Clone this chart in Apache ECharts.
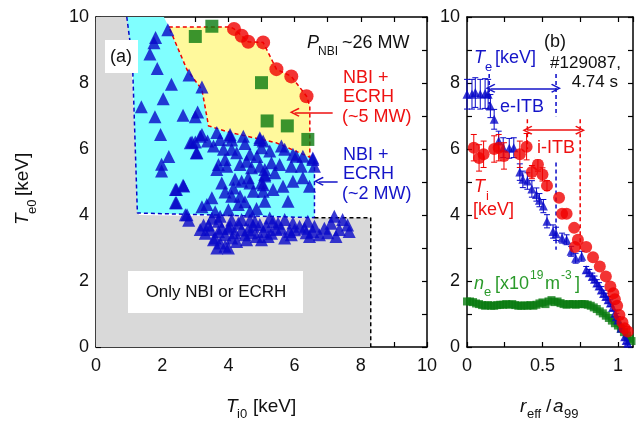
<!DOCTYPE html>
<html><head><meta charset="utf-8">
<script src="https://cdn.jsdelivr.net/npm/echarts@6/dist/echarts.min.js"></script>
<style>html,body{margin:0;padding:0;background:#fff}#c{width:642px;height:424px}</style>
</head><body><div id="c"></div>
<script>
// ---------- Panel (a) data ----------
const greyRegion = [[0,0],[0,10],[1.0,10],[1.3,4.0],[6.6,3.92],[8.3,3.92],[8.3,0]];
const cyanRegion = [[0.93,10],[2.05,10],[2.2,9.7],[2.75,8.4],[3.2,7.8],[3.4,6.7],[4.05,6.5],[5.44,6.19],[6.46,5.75],[6.6,5.75],[6.6,3.92],[1.25,4.06],[1.1,8.7]];
const cyanEdge = [[0.93,10],[1.1,8.7],[1.25,4.06],[6.6,3.92],[6.6,5.75]];
const blackEdge = [[6.6,3.92],[8.3,3.92],[8.3,0]];
const yellowRegion = [[2.2,9.7],[4.05,9.7],[4.17,9.64],[4.4,9.43],[4.6,9.25],[5.05,9.23],[5.45,8.42],[5.9,8.2],[6.36,7.6],[6.46,7.3],[6.46,5.75],[5.44,6.19],[4.05,6.5],[3.4,6.7],[3.2,7.8],[2.75,8.4]];
const ecrh5Ti = [4.17,4.4,4.6,5.05,5.45,5.9,6.36];
const ecrh5Te = [9.64,9.43,9.25,9.23,8.42,8.2,7.6];
const sqTi = [3.0,3.5,5.0,5.17,5.78,6.4];
const sqTe = [9.41,9.72,8.01,6.85,6.7,6.29];
const triPts = [
[2.17,9.61],[1.8,9.38],[1.75,9.22],[1.63,8.88],[1.85,8.44],[2.28,7.96],[1.37,7.28],[2.03,7.52],[1.78,6.98],[2.63,7.02],[3.07,7.12],[3.0,6.98],[2.81,8.24],[3.2,7.88],[1.95,6.44],[2.2,5.77],[1.98,5.54],[1.98,5.33],[2.43,4.77],[2.63,4.9],[2.43,4.37],[2.75,4.01],[2.8,3.84],
[3.2,6.44],[2.9,6.21],[3.0,6.21],[3.03,5.89],[3.37,6.24],[3.65,6.5],[3.75,6.29],[4.05,6.44],[4.1,6.27],[4.45,6.39],[4.5,6.17],[4.95,6.34],[5.0,6.04],[3.55,6.09],[3.85,5.99],[4.1,5.99],[4.25,5.89],[4.65,5.84],[4.86,5.77],[3.9,5.68],[3.7,5.53],[3.65,5.38],[3.95,5.48],[4.35,5.53],[4.55,5.63],[4.7,5.43],[4.95,5.48],[5.1,5.38],[3.8,4.97],[4.2,5.08],[4.4,5.02],[4.6,5.13],[4.65,4.97],[5.0,4.97],[5.1,5.18],[4.15,4.82],[4.1,4.57],[4.35,4.57],[4.75,4.72],[5.05,4.72],[2.65,4.88],[2.4,4.77],[2.4,4.37],[3.5,4.52],[3.35,4.32],[3.2,4.25],[4.0,4.16],[4.3,4.32],[4.65,4.11],[3.75,3.96],[2.7,4.01],
[2.85,6.19],[3.15,6.39],[4.05,6.39],[4.95,6.29],[5.6,6.09],[6.05,5.78],[6.55,5.73],[3.05,5.89],
[5.05,6.24],[5.25,5.94],[5.7,5.99],[5.95,5.84],[6.25,5.78],[6.55,5.68],[6.6,5.48],[5.3,5.58],[5.55,5.53],[5.9,5.48],[6.2,5.48],[5.1,5.23],[5.4,5.28],[5.95,5.02],[6.25,5.13],[6.45,4.87],[5.05,4.92],[5.35,4.77],[5.65,4.87],[5.1,4.42],[5.8,4.42],[3.9,4.7],[4.5,4.4],[3.6,4.1],[4.85,4.2],
[3.7,3.81],[4.05,3.66],[4.4,3.86],[4.75,3.66],[4.95,3.71],[3.45,3.56],[3.7,3.5],[3.9,3.4],[4.2,3.46],[4.5,3.4],[4.7,3.46],[5.05,3.5],[3.55,3.25],[3.75,3.15],[3.9,3.05],[4.25,3.2],[4.55,3.25],[4.85,3.35],[3.15,3.56],[3.3,3.45],[5.25,3.91],[5.7,3.86],[5.95,3.76],[6.4,3.81],[6.6,3.66],[7.2,3.96],[7.45,3.86],[7.6,3.7],[5.15,3.66],[5.45,3.56],[5.85,3.5],[6.15,3.66],[6.35,3.46],[6.75,3.4],[7.0,3.46],[7.35,3.56],[7.65,3.5],[5.2,3.35],[5.7,3.3],[6.45,3.35],[7.25,3.35],[4.0,3.6],[4.3,3.75],[4.6,3.55],[5.5,3.75],[6.0,3.55],[6.9,3.6],
[3.4,3.7],[3.6,3.3],[3.8,3.6],[4.1,3.3],[4.4,3.55],[4.8,3.8],[5.3,3.45],[5.6,3.6],[6.3,3.6],[6.55,3.5],[4.1,3.85],[3.5,3.9],[5.0,3.25],[5.9,3.4],[7.1,3.75],[3.25,3.7],[4.65,3.85],[5.35,3.8],[4.0,3.0],[3.65,3.0]
];

// ---------- Panel (b) data ----------
const teR = [0,0.033,0.055,0.088,0.12,0.14,0.155,0.18,0.21,0.24,0.28,0.31,0.35,0.37,0.40,0.43,0.46,0.48,0.506,0.53,0.57,0.59,0.63,0.66,0.69,0.72,0.76,0.79,0.81,0.83,0.845,0.86,0.875,0.89,0.905,0.92,0.935,0.95,0.965,0.98,0.99,1.0,1.02,1.045,1.055,1.065];
const teV = [7.66,7.66,7.71,7.66,7.68,7.66,7.3,6.9,6.24,6.04,6.02,6.04,5.3,5.08,5.03,4.79,4.62,4.45,4.27,3.81,3.5,3.43,3.3,3.25,2.9,2.69,2.75,2.34,2.25,2.14,2.05,1.94,1.85,1.73,1.62,1.53,1.43,1.33,1.2,1.02,0.92,0.82,0.57,0.31,0.2,0.11];
const teErr = [0.45,0.45,0.45,0.45,0.45,0.45,0.35,0.3,0.3,0.3,0.3,0.3,0.25,0.25,0.25,0.25,0.2,0.2,0.2,0.2,0.2,0.2,0.15,0.15,0.15,0.15,0.15,0.1,0.1,0.1,0.1,0.1,0.1,0.1,0.1,0.1,0.1,0.1,0.1,0.1,0.1,0.1,0.1,0.1,0.1,0.1];
const tiR = [0.045,0.08,0.11,0.18,0.21,0.245,0.35,0.395,0.43,0.47,0.50,0.53,0.61,0.63,0.66,0.71,0.715,0.735,0.79,0.835,0.88,0.92,0.95,0.97,0.98,0.995,1.01,1.03,1.045,1.065];
const tiV = [6.04,5.73,5.84,6.0,6.04,5.79,5.84,6.07,5.3,5.53,5.23,4.89,4.52,4.04,4.04,3.61,3.03,3.25,3.03,2.72,2.44,2.14,1.83,1.63,1.45,1.25,0.97,0.75,0.57,0.47];
const tiErr = [0.4,0.4,0.4,0.4,0.4,0.4,0.4,0.4,0.2,0.2,0.2,0.15,0,0,0,0,0,0,0,0,0,0,0,0,0,0,0,0,0,0];
const neR = [0,0.02,0.04,0.06,0.08,0.10,0.12,0.14,0.16,0.18,0.20,0.22,0.24,0.26,0.28,0.30,0.32,0.34,0.36,0.38,0.40,0.42,0.44,0.46,0.48,0.50,0.52,0.54,0.56,0.58,0.60,0.62,0.64,0.66,0.68,0.70,0.72,0.74,0.76,0.78,0.80,0.82,0.84,0.86,0.88,0.90,0.92,0.94,0.96,0.98,1.0,1.02,1.04,1.06,1.08,1.09];
const neV = [1.38,1.38,1.36,1.32,1.3,1.27,1.25,1.27,1.25,1.25,1.27,1.28,1.28,1.3,1.28,1.3,1.27,1.25,1.25,1.26,1.25,1.27,1.25,1.28,1.32,1.35,1.3,1.38,1.42,1.36,1.38,1.33,1.3,1.28,1.3,1.3,1.28,1.3,1.3,1.3,1.28,1.25,1.2,1.15,1.08,1.02,0.95,0.88,0.8,0.72,0.65,0.55,0.45,0.35,0.25,0.18];
const eItb = [0.155,0.59], eItbLevel = 7.84;
const iItb = [0.4,0.75], iItbLevel = 6.57;

// tick labels
const leftTicks = [0,2,4,6,8,10];
const rhoTicks = [0,0.5,1];

const FF = 'Liberation Sans, Arial, sans-serif';
const chart = echarts.init(document.getElementById('c'));

function polyRender(points, fill, stroke) {
  return function (params, api) {
    if (params.dataIndex !== 0) return;
    const pts = points.map(p => api.coord(p));
    return {type:'polygon', shape:{points:pts},
      style:{fill:fill, stroke:stroke||null, lineWidth:1.5, lineDash: stroke ? [4,3] : null}};
  };
}
function errRender(color) {
  return function (params, api) {
    const x = api.value(0), lo = api.value(1), hi = api.value(2);
    if (hi - lo <= 0) return;
    const a = api.coord([x, lo]), b = api.coord([x, hi]);
    const w = 3, st = {stroke:color, lineWidth:1};
    return {type:'group', children:[
      {type:'line', shape:{x1:a[0],y1:a[1],x2:b[0],y2:b[1]}, style:st},
      {type:'line', shape:{x1:a[0]-w,y1:a[1],x2:a[0]+w,y2:a[1]}, style:st},
      {type:'line', shape:{x1:b[0]-w,y1:b[1],x2:b[0]+w,y2:b[1]}, style:st}
    ]};
  };
}
function axisBase(extra) {
  return Object.assign({
    type:'value', splitLine:{show:false},
    axisLine:{show:true, onZero:false, lineStyle:{color:'#000', width:1.5}},
    axisTick:{show:true, inside:true, length:5, lineStyle:{color:'#000', width:1.2}},
  }, extra);
}
const lblStyle = {fontSize:18, color:'#111', fontFamily:FF};
const fmtLeft = v => leftTicks.indexOf(v) >= 0 ? String(v) : '';
const fmtRho = v => rhoTicks.some(t => Math.abs(t - v) < 1e-9) ? String(v) : '';

const xAxes = [
  axisBase({gridIndex:0, min:0, max:10, interval:1, position:'bottom', axisLabel:Object.assign({formatter:fmtLeft, margin:10}, lblStyle)}),
  axisBase({gridIndex:0, min:0, max:10, interval:1, position:'top', axisLabel:{show:false}}),
  axisBase({gridIndex:1, min:0, max:1.1, interval:0.25, position:'bottom', axisLabel:Object.assign({formatter:fmtRho, margin:10, showMaxLabel:false}, lblStyle)}),
  axisBase({gridIndex:1, min:0, max:1.1, interval:0.25, position:'top', axisLabel:{show:false}})
];
const yAxes = [
  axisBase({gridIndex:0, min:0, max:10, interval:1, position:'left', axisLabel:Object.assign({formatter:fmtLeft, margin:7}, lblStyle)}),
  axisBase({gridIndex:0, min:0, max:10, interval:1, position:'right', axisLabel:{show:false}}),
  axisBase({gridIndex:1, min:0, max:10, interval:1, position:'left', axisLabel:Object.assign({formatter:fmtLeft, margin:7}, lblStyle)}),
  axisBase({gridIndex:1, min:0, max:10, interval:1, position:'right', axisLabel:{show:false}})
];

const chevron = 'path://M5,0L10,8.5L8.8,9.5L5,3L1.2,9.5L0,8.5Z';
const RED = '#f00000', BLUE = '#0808c8', GREEN = '#0a7a10';
const TRED = '#ee1111', TBLUE = '#1414c8', TGREEN = '#2a9a2a';

const series = [
  {type:'custom', xAxisIndex:0, yAxisIndex:0, renderItem:polyRender(greyRegion,'#d9d9d9'), data:greyRegion, silent:true, z:1},
  {type:'custom', xAxisIndex:0, yAxisIndex:0, renderItem:polyRender(cyanRegion,'#80ffff'), data:cyanRegion, silent:true, z:1},
  {type:'custom', xAxisIndex:0, yAxisIndex:0, renderItem:polyRender(yellowRegion,'#fff99c', RED), data:yellowRegion, silent:true, z:2},
  {type:'line', xAxisIndex:0, yAxisIndex:0, data:cyanEdge, symbol:'none', lineStyle:{color:BLUE, width:1.5, type:[4,3]}, silent:true, z:2},
  {type:'line', xAxisIndex:0, yAxisIndex:0, data:blackEdge, symbol:'none', lineStyle:{color:'#000', width:1.5, type:[4,3]}, silent:true, z:2,
    markLine:{silent:true, symbol:['none', chevron], symbolSize:[9,10], label:{show:false},
      data:[
        [{coord:[7.15,7.11], lineStyle:{color:TRED, width:1.5, type:'solid'}},{coord:[6.0,7.11]}],
        [{coord:[7.3,5.02], lineStyle:{color:TBLUE, width:1.5, type:'solid'}},{coord:[6.73,5.02]}]
      ]}},
  {type:'scatter', xAxisIndex:0, yAxisIndex:0, data:triPts, symbol:'triangle', symbolSize:13, itemStyle:{color:BLUE}, silent:true, z:3},
  {type:'scatter', xAxisIndex:0, yAxisIndex:0, data:ecrh5Ti.map((v,i)=>[v,ecrh5Te[i]]), symbol:'circle', symbolSize:14, itemStyle:{color:RED}, silent:true, z:4},
  {type:'scatter', xAxisIndex:0, yAxisIndex:0, data:sqTi.map((v,i)=>[v,sqTe[i]]), symbol:'rect', symbolSize:13, itemStyle:{color:GREEN}, silent:true, z:4},

  // panel b
  {type:'line', xAxisIndex:2, yAxisIndex:2, data:[[0.147,8.27],[0.147,7.36]], symbol:'none', lineStyle:{color:BLUE, width:1.5, type:[4,3]}, silent:true, z:2},
  {type:'line', xAxisIndex:2, yAxisIndex:2, data:[[0.59,8.27],[0.59,6.99]], symbol:'none', lineStyle:{color:BLUE, width:1.5, type:[4,3]}, silent:true, z:2},
  {type:'line', xAxisIndex:2, yAxisIndex:2, data:[[0.59,5.59],[0.59,2.95]], symbol:'none', lineStyle:{color:BLUE, width:1.5, type:[4,3]}, silent:true, z:2},
  {type:'line', xAxisIndex:2, yAxisIndex:2, data:[[0.4,6.9],[0.4,5.99]], symbol:'none', lineStyle:{color:RED, width:1.5, type:[4,3]}, silent:true, z:2},
  {type:'line', xAxisIndex:2, yAxisIndex:2, data:[[0.75,6.9],[0.75,2.95]], symbol:'none', lineStyle:{color:RED, width:1.5, type:[4,3]}, silent:true, z:2,
    markLine:{silent:true, symbol:[chevron, chevron], symbolSize:[9,10], label:{show:false},
      data:[
        [{coord:[eItb[0],eItbLevel], lineStyle:{color:TBLUE, width:1.5, type:'solid'}},{coord:[eItb[1],eItbLevel]}],
        [{coord:[iItb[0],iItbLevel], lineStyle:{color:TRED, width:1.5, type:'solid'}},{coord:[iItb[1],iItbLevel]}]
      ]}},
  {type:'custom', xAxisIndex:2, yAxisIndex:2, renderItem:errRender(BLUE), data:teR.map((r,i)=>[r,teV[i]-teErr[i],teV[i]+teErr[i]]), silent:true, z:3},
  {type:'custom', xAxisIndex:2, yAxisIndex:2, renderItem:errRender(RED), data:tiR.map((r,i)=>[r,tiV[i]-tiErr[i],tiV[i]+tiErr[i]]), silent:true, z:3},
  {type:'scatter', xAxisIndex:2, yAxisIndex:2, data:neR.map((r,i)=>[r,neV[i]]), symbol:'rect', symbolSize:8, itemStyle:{color:GREEN}, silent:true, z:4},
  {type:'scatter', xAxisIndex:2, yAxisIndex:2, data:teR.map((r,i)=>[r,teV[i]]), symbol:'triangle', symbolSize:9, itemStyle:{color:BLUE}, silent:true, z:5},
  {type:'scatter', xAxisIndex:2, yAxisIndex:2, data:tiR.map((r,i)=>[r,tiV[i]]), symbol:'circle', symbolSize:12, itemStyle:{color:RED}, silent:true, z:6}
];

function T(x, y, s, size, color, o) {
  o = o || {};
  return {type:'text', x:x, y:y, z:60, silent:true, style:{text:s, fill:color||'#111',
    font:(o.italic?'italic ':'') + size + 'px ' + FF, textAlign:o.align||'left', textVerticalAlign:'middle'}};
}
const graphics = [
  {type:'rect', shape:{x:105,y:40,width:33,height:33}, style:{fill:'#fff'}, z:50, silent:true},
  T(121,57,'(a)',18,'#111',{align:'center'}),
  T(307,43,'P',18,'#111',{italic:true}),
  T(318,52,'NBI',12,'#111'),
  T(342,43,'~26 MW',18,'#111'),
  T(343,78,'NBI +',18,TRED), T(343,97,'ECRH',18,TRED), T(342,117,'(~5 MW)',18,TRED),
  T(343,155,'NBI +',18,TBLUE), T(343,174,'ECRH',18,TBLUE), T(342,194,'(~2 MW)',18,TBLUE),
  {type:'rect', shape:{x:128,y:271,width:175,height:42}, style:{fill:'#fff'}, z:50, silent:true},
  T(216,292,'Only NBI or ECRH',17,'#111',{align:'center'}),
  // panel b annotations
  T(555,42,'(b)',18,'#111',{align:'center'}),
  T(621,63,'#129087,',17,'#111',{align:'right'}),
  T(618,82,'4.74 s',17,'#111',{align:'right'}),
  T(474,58,'T',18,TBLUE,{italic:true}), T(485,67,'e',13,TBLUE), T(495,58,'[keV]',18,TBLUE),
  T(500,107,'e-ITB',18,TBLUE),
  {type:'rect', shape:{x:535,y:137,width:42,height:22}, style:{fill:'#fff'}, z:50, silent:true},
  T(537,148,'i-ITB',18,TRED),
  T(474,187,'T',18,TRED,{italic:true}), T(486,196,'i',13,TRED), T(473,210,'[keV]',18,TRED),
  T(474,284,'n',18,TGREEN,{italic:true}), T(484,292,'e',13,TGREEN), T(495,284,'[x10',18,TGREEN),
  T(530,276,'19',12,TGREEN), T(545,284,'m',18,TGREEN), T(561,276,'-3',12,TGREEN), T(575,284,']',18,TGREEN),
  // axis titles
  T(226,407,'T',19,'#111',{italic:true}), T(237,414,'i0',13,'#111'), T(253,407,'[keV]',19,'#111'),
  T(520,407,'r',19,'#111',{italic:true}), T(527,414,'eff',13,'#111'), T(546,407,'/',19,'#111'),
  T(553,407,'a',19,'#111',{italic:true}), T(564,414,'99',13,'#111'),
  {type:'group', x:23, y:225, rotation:Math.PI/2, z:60, children:[
    T(0,0,'T',19,'#111',{italic:true}), T(11,9,'e0',13,'#111'), T(29,0,'[keV]',19,'#111')
  ]}
];

chart.setOption({
  animation:false,
  backgroundColor:'#fff',
  grid:[{left:96, top:17, width:331, height:330}, {left:467, top:17, width:166, height:330}],
  xAxis:xAxes, yAxis:yAxes, series:series, graphic:graphics
});
</script></body></html>
